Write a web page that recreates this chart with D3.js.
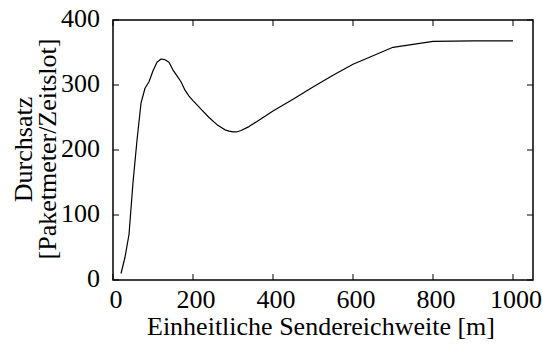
<!DOCTYPE html>
<html><head><meta charset="utf-8">
<script src="https://cdn.jsdelivr.net/npm/d3@7"></script>
<style>body{margin:0;background:#fff}svg{display:block}</style>
</head><body>
<script>
const rangeM = [20,30,40,50,60,70,80,90,100,110,120,130,140,150,160,170,180,190,200,220,240,260,280,290,300,310,320,340,360,400,450,500,550,600,700,800,900,1000];
const throughput = [10,35,70,150,215,272,295,305,322,335,340,339,335,323,314,305,292,283,276,263,250,239,231,229,228,228,230,236,244,260,278,297,315,332,358,367,368,368];
const xTicks = [0,200,400,600,800,1000];
const yTicks = [0,100,200,300,400];
const xLabel = "Einheitliche Sendereichweite [m]";
const yLabel1 = "Durchsatz";
const yLabel2 = "[Paketmeter/Zeitslot]";

const FF = "'Liberation Serif','Times New Roman',Times,'DejaVu Serif',serif";
const W=543,H=346;
const L=113,R=533,T=20,B=280;
const svg=d3.select("body").append("svg").attr("width",W).attr("height",H)
  .attr("font-family",FF).style("font-family",FF);
const x=d3.scaleLinear().domain([0,1050]).range([L,R]);
const y=d3.scaleLinear().domain([0,400]).range([B,T]);
const tl=6, fs=26;

const g=svg.append("g");
xTicks.forEach(v=>{
  g.append("line").attr("x1",x(v)).attr("x2",x(v)).attr("y1",B).attr("y2",B-tl).attr("stroke","#000");
  g.append("line").attr("x1",x(v)).attr("x2",x(v)).attr("y1",T).attr("y2",T+tl).attr("stroke","#000");
  g.append("text").attr("x",x(v)+3).attr("y",308).attr("text-anchor","middle").attr("font-size",fs).style("font-family",FF).text(v);
});
yTicks.forEach(v=>{
  g.append("line").attr("x1",L).attr("x2",L+tl).attr("y1",y(v)).attr("y2",y(v)).attr("stroke","#000");
  g.append("line").attr("x1",R).attr("x2",R-tl).attr("y1",y(v)).attr("y2",y(v)).attr("stroke","#000");
  g.append("text").attr("x",L-13).attr("y",y(v)+7).attr("text-anchor","end").attr("font-size",fs).style("font-family",FF).text(v);
});
g.append("rect").attr("x",L).attr("y",T).attr("width",R-L).attr("height",B-T).attr("fill","none").attr("stroke","#000").attr("stroke-width",1.5);
const line=d3.line().x((d,i)=>x(rangeM[i])).y(d=>y(d)).curve(d3.curveLinear);
g.append("path").datum(throughput).attr("d",line).attr("fill","none").attr("stroke","#000").attr("stroke-width",1.2).attr("stroke-linejoin","round");
svg.append("text").attr("x",321).attr("y",335).attr("text-anchor","middle").attr("font-size",fs).style("font-family",FF).text(xLabel);
svg.append("text").attr("transform","translate(32,149.5) rotate(-90)").attr("text-anchor","middle").attr("font-size",fs).style("font-family",FF).text(yLabel1);
svg.append("text").attr("transform","translate(56,149) rotate(-90)").attr("text-anchor","middle").attr("font-size",fs).style("font-family",FF).text(yLabel2);
</script>
</body></html>
